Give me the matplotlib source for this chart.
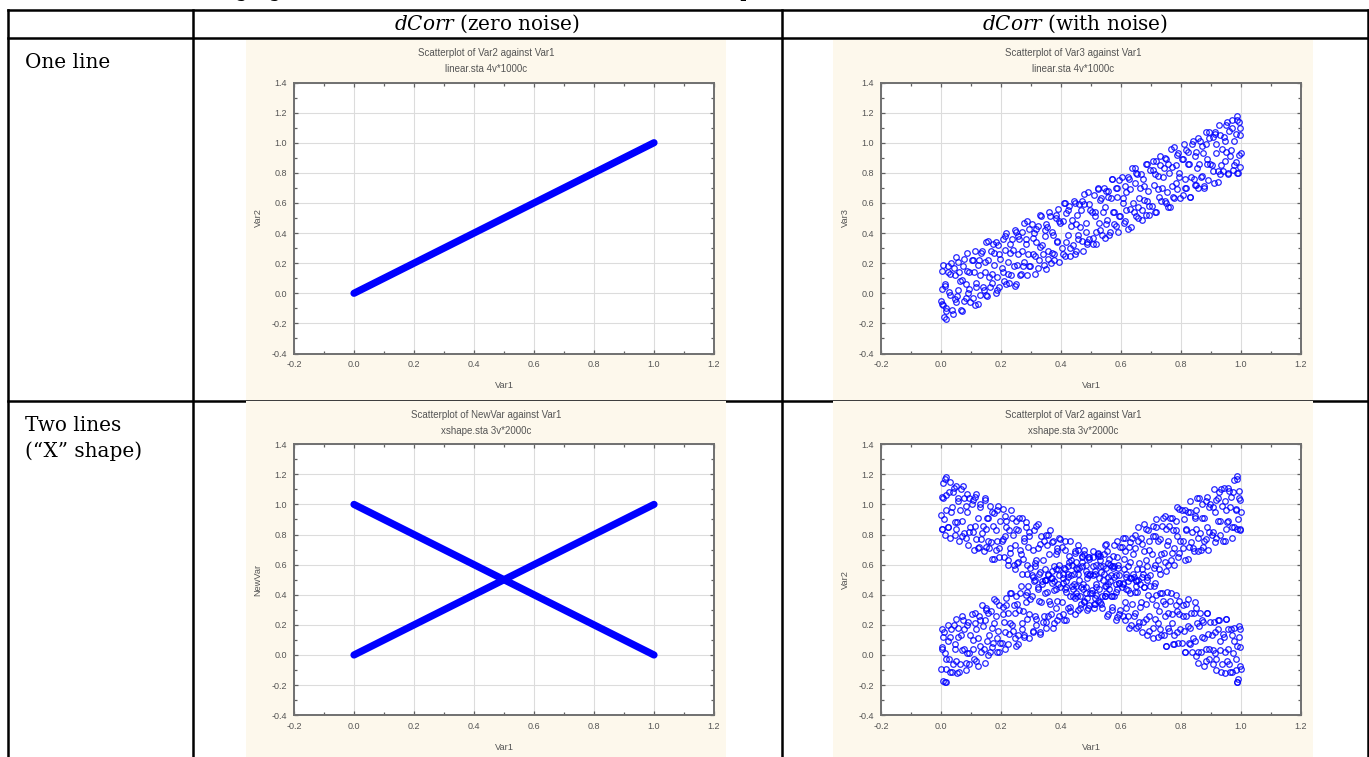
import matplotlib.pyplot as plt
from matplotlib.lines import Line2D
from matplotlib.patches import Rectangle
from matplotlib.ticker import MultipleLocator, FormatStrFormatter

W, H = 1369, 757

plt.rcParams['axes.unicode_minus'] = False
plt.rcParams['mathtext.fontset'] = 'custom'
plt.rcParams['mathtext.rm'] = 'DejaVu Serif'
plt.rcParams['mathtext.it'] = 'DejaVu Serif:italic'

# table text
intro_text = 'The following figures show the dCorr function for the two shapes:'
col_headers = [r'$\mathit{dCorr}$ (zero noise)', r'$\mathit{dCorr}$ (with noise)']
row_labels = ['One line', 'Two lines', '(\u201cX\u201d shape)']

chart_titles = ['Scatterplot of Var2 against Var1', 'Scatterplot of Var3 against Var1',
                'Scatterplot of NewVar against Var1', 'Scatterplot of Var2 against Var1']
chart_subs = ['linear.sta 4v*1000c', 'linear.sta 4v*1000c',
              'xshape.sta 3v*2000c', 'xshape.sta 3v*2000c']
chart_ylabels = ['Var2', 'Var3', 'NewVar', 'Var2']

# zero noise: points fall exactly on the lines
line_x = [0.0, 1.0]
line_up = [0.0, 1.0]
line_down = [1.0, 0.0]

noise_x = [
    0.002, 0.006, 0.009, 0.013, 0.018, 0.024, 0.027, 0.031, 0.036, 0.042, 0.047, 0.051, 0.055, 0.061, 0.066, 0.071, 0.076, 0.082, 0.087, 0.093,
    0.102, 0.106, 0.109, 0.113, 0.118, 0.124, 0.127, 0.131, 0.136, 0.142, 0.147, 0.151, 0.155, 0.161, 0.166, 0.171, 0.176, 0.182, 0.187, 0.193,
    0.202, 0.206, 0.209, 0.213, 0.218, 0.224, 0.227, 0.231, 0.236, 0.242, 0.247, 0.251, 0.255, 0.261, 0.266, 0.271, 0.276, 0.282, 0.287, 0.293,
    0.302, 0.306, 0.309, 0.313, 0.318, 0.324, 0.327, 0.331, 0.336, 0.342, 0.347, 0.351, 0.355, 0.361, 0.366, 0.371, 0.376, 0.382, 0.387, 0.393,
    0.402, 0.406, 0.409, 0.413, 0.418, 0.424, 0.427, 0.431, 0.436, 0.442, 0.447, 0.451, 0.455, 0.461, 0.466, 0.471, 0.476, 0.482, 0.487, 0.493,
    0.502, 0.506, 0.509, 0.513, 0.518, 0.524, 0.527, 0.531, 0.536, 0.542, 0.547, 0.551, 0.555, 0.561, 0.566, 0.571, 0.576, 0.582, 0.587, 0.593,
    0.602, 0.606, 0.609, 0.613, 0.618, 0.624, 0.627, 0.631, 0.636, 0.642, 0.647, 0.651, 0.655, 0.661, 0.666, 0.671, 0.676, 0.682, 0.687, 0.693,
    0.702, 0.706, 0.709, 0.713, 0.718, 0.724, 0.727, 0.731, 0.736, 0.742, 0.747, 0.751, 0.755, 0.761, 0.766, 0.771, 0.776, 0.782, 0.787, 0.793,
    0.802, 0.806, 0.809, 0.813, 0.818, 0.824, 0.827, 0.831, 0.836, 0.842, 0.847, 0.851, 0.855, 0.861, 0.866, 0.871, 0.876, 0.882, 0.887, 0.893,
    0.902, 0.906, 0.909, 0.913, 0.918, 0.924, 0.927, 0.931, 0.936, 0.942, 0.947, 0.951, 0.955, 0.961, 0.966, 0.971, 0.976, 0.982, 0.987, 0.993,
    0.985, 0.997, 0.998, 0.999,
]

noise_x2 = [
    0.998, 0.994, 0.991, 0.987, 0.982, 0.976, 0.973, 0.969, 0.964, 0.958, 0.953, 0.949, 0.945, 0.939, 0.934, 0.929, 0.924, 0.918, 0.913, 0.907,
    0.898, 0.894, 0.891, 0.887, 0.882, 0.876, 0.873, 0.869, 0.864, 0.858, 0.853, 0.849, 0.845, 0.839, 0.834, 0.829, 0.824, 0.818, 0.813, 0.807,
    0.798, 0.794, 0.791, 0.787, 0.782, 0.776, 0.773, 0.769, 0.764, 0.758, 0.753, 0.749, 0.745, 0.739, 0.734, 0.729, 0.724, 0.718, 0.713, 0.707,
    0.698, 0.694, 0.691, 0.687, 0.682, 0.676, 0.673, 0.669, 0.664, 0.658, 0.653, 0.649, 0.645, 0.639, 0.634, 0.629, 0.624, 0.618, 0.613, 0.607,
    0.598, 0.594, 0.591, 0.587, 0.582, 0.576, 0.573, 0.569, 0.564, 0.558, 0.553, 0.549, 0.545, 0.539, 0.534, 0.529, 0.524, 0.518, 0.513, 0.507,
    0.498, 0.494, 0.491, 0.487, 0.482, 0.476, 0.473, 0.469, 0.464, 0.458, 0.453, 0.449, 0.445, 0.439, 0.434, 0.429, 0.424, 0.418, 0.413, 0.407,
    0.398, 0.394, 0.391, 0.387, 0.382, 0.376, 0.373, 0.369, 0.364, 0.358, 0.353, 0.349, 0.345, 0.339, 0.334, 0.329, 0.324, 0.318, 0.313, 0.307,
    0.298, 0.294, 0.291, 0.287, 0.282, 0.276, 0.273, 0.269, 0.264, 0.258, 0.253, 0.249, 0.245, 0.239, 0.234, 0.229, 0.224, 0.218, 0.213, 0.207,
    0.198, 0.194, 0.191, 0.187, 0.182, 0.176, 0.173, 0.169, 0.164, 0.158, 0.153, 0.149, 0.145, 0.139, 0.134, 0.129, 0.124, 0.118, 0.113, 0.107,
    0.098, 0.094, 0.091, 0.087, 0.082, 0.076, 0.073, 0.069, 0.064, 0.058, 0.053, 0.049, 0.045, 0.039, 0.034, 0.029, 0.024, 0.018, 0.013, 0.007,
    0.015, 0.003, 0.002, 0.001,
]

# linear.sta, Var3 (with noise)
lin_noise_y = [
    -0.07, 0.19, -0.16, 0.06, -0.10, 0.18, 0.01, 0.13, -0.11, 0.17, -0.04, 0.24, 0.02, 0.14, -0.11, 0.09, 0.23, -0.03, 0.15, 0.03,
    0.22, -0.03, 0.14, 0.28, 0.04, -0.07, 0.22, 0.12, 0.28, 0.02, 0.21, -0.01, 0.35, 0.11, 0.28, 0.07, 0.19, 0.34, 0.02, 0.26,
    0.17, 0.36, 0.08, 0.29, 0.40, 0.13, 0.07, 0.27, 0.36, 0.18, 0.42, 0.06, 0.26, 0.36, 0.13, 0.41, 0.21, 0.33, 0.48, 0.18,
    0.46, 0.26, 0.40, 0.13, 0.34, 0.45, 0.22, 0.52, 0.32, 0.19, 0.42, 0.46, 0.28, 0.54, 0.20, 0.41, 0.26, 0.52, 0.35, 0.48,
    0.30, 0.48, 0.60, 0.25, 0.53, 0.39, 0.58, 0.30, 0.49, 0.61, 0.26, 0.46, 0.39, 0.59, 0.55, 0.35, 0.66, 0.47, 0.34, 0.59,
    0.54, 0.33, 0.65, 0.51, 0.41, 0.70, 0.47, 0.62, 0.39, 0.70, 0.57, 0.46, 0.68, 0.39, 0.63, 0.76, 0.54, 0.45, 0.70, 0.51,
    0.77, 0.60, 0.47, 0.71, 0.67, 0.43, 0.76, 0.56, 0.83, 0.54, 0.73, 0.80, 0.50, 0.63, 0.79, 0.55, 0.71, 0.86, 0.61, 0.52,
    0.58, 0.82, 0.72, 0.54, 0.88, 0.78, 0.64, 0.91, 0.70, 0.83, 0.61, 0.89, 0.57, 0.80, 0.96, 0.71, 0.63, 0.85, 0.92, 0.77,
    0.89, 0.65, 0.99, 0.76, 0.70, 0.94, 0.86, 0.64, 0.99, 0.76, 0.91, 0.72, 1.03, 0.86, 0.77, 0.98, 0.71, 1.07, 0.86, 1.03,
    0.85, 1.04, 0.73, 1.07, 0.99, 0.81, 1.12, 0.79, 0.96, 1.04, 0.88, 1.12, 0.80, 1.08, 0.95, 1.15, 0.85, 1.06, 0.80, 1.14,
    1.18, 1.05, 0.84, 0.93,
]

lin_noise_y2 = [
    1.10, 0.92, 0.80, 1.15, 0.87, 1.01, 0.82, 1.10, 0.91, 0.79, 1.14, 0.94, 1.01, 0.81, 0.85, 1.05, 0.74, 0.93, 1.06, 0.81,
    0.86, 1.07, 0.75, 0.89, 0.99, 0.70, 0.93, 0.78, 1.01, 0.70, 0.83, 0.94, 0.72, 1.01, 0.77, 0.64, 0.86, 0.95, 0.70, 0.89,
    0.63, 0.80, 0.93, 0.69, 0.73, 0.97, 0.64, 0.84, 0.57, 0.86, 0.67, 0.60, 0.90, 0.77, 0.61, 0.85, 0.69, 0.54, 0.79, 0.88,
    0.82, 0.58, 0.68, 0.86, 0.52, 0.62, 0.76, 0.49, 0.70, 0.57, 0.79, 0.51, 0.83, 0.60, 0.44, 0.69, 0.77, 0.55, 0.48, 0.63,
    0.51, 0.75, 0.41, 0.64, 0.70, 0.46, 0.54, 0.76, 0.41, 0.64, 0.49, 0.68, 0.37, 0.54, 0.63, 0.42, 0.69, 0.33, 0.54, 0.37,
    0.55, 0.36, 0.67, 0.33, 0.41, 0.59, 0.28, 0.61, 0.44, 0.36, 0.52, 0.28, 0.60, 0.32, 0.45, 0.25, 0.55, 0.34, 0.60, 0.26,
    0.47, 0.21, 0.56, 0.34, 0.50, 0.22, 0.39, 0.27, 0.51, 0.23, 0.44, 0.16, 0.38, 0.26, 0.51, 0.31, 0.17, 0.43, 0.25, 0.37,
    0.18, 0.43, 0.26, 0.12, 0.36, 0.47, 0.18, 0.28, 0.12, 0.38, 0.19, 0.41, 0.05, 0.29, 0.12, 0.33, 0.21, 0.06, 0.38, 0.14,
    0.23, 0.04, 0.32, 0.11, 0.00, 0.27, 0.33, 0.13, 0.04, 0.22, -0.02, 0.34, 0.14, 0.04, 0.27, -0.01, 0.19, 0.07, -0.08, 0.22,
    -0.06, 0.14, 0.00, 0.27, 0.06, -0.05, 0.18, -0.12, 0.08, 0.21, -0.02, -0.06, 0.12, -0.14, 0.20, -0.01, 0.14, -0.12, 0.05, -0.08,
    -0.17, 0.03, 0.15, -0.05,
]

# xshape.sta, Var2: rising arm and falling arm
xshape_up_y = [
    0.04, -0.17, 0.15, 0.01, -0.09, 0.20, -0.03, 0.12, -0.11, 0.20, 0.07, -0.04, 0.18, -0.11, 0.13, 0.26, 0.04, -0.05, 0.20, 0.01,
    0.27, 0.10, -0.03, 0.21, 0.17, -0.07, 0.26, 0.06, 0.33, 0.04, 0.23, 0.30, 0.00, 0.13, 0.29, 0.05, 0.21, 0.36, 0.11, 0.02,
    0.08, 0.32, 0.22, 0.04, 0.38, 0.28, 0.14, 0.41, 0.20, 0.33, 0.11, 0.39, 0.07, 0.30, 0.46, 0.21, 0.13, 0.35, 0.42, 0.27,
    0.39, 0.15, 0.49, 0.26, 0.20, 0.44, 0.36, 0.14, 0.49, 0.26, 0.41, 0.22, 0.53, 0.36, 0.27, 0.48, 0.21, 0.57, 0.36, 0.53,
    0.35, 0.54, 0.23, 0.57, 0.49, 0.31, 0.62, 0.29, 0.46, 0.54, 0.38, 0.62, 0.30, 0.58, 0.45, 0.65, 0.35, 0.56, 0.30, 0.64,
    0.43, 0.69, 0.34, 0.56, 0.40, 0.68, 0.51, 0.63, 0.39, 0.67, 0.46, 0.74, 0.52, 0.64, 0.39, 0.59, 0.73, 0.47, 0.65, 0.53,
    0.72, 0.47, 0.64, 0.78, 0.54, 0.43, 0.72, 0.62, 0.78, 0.52, 0.71, 0.49, 0.85, 0.61, 0.78, 0.57, 0.69, 0.84, 0.52, 0.76,
    0.67, 0.86, 0.58, 0.79, 0.90, 0.63, 0.57, 0.77, 0.86, 0.68, 0.92, 0.56, 0.76, 0.86, 0.63, 0.91, 0.71, 0.83, 0.98, 0.68,
    0.96, 0.76, 0.90, 0.63, 0.84, 0.95, 0.72, 1.02, 0.82, 0.69, 0.92, 0.96, 0.78, 1.04, 0.70, 0.91, 0.76, 1.02, 0.85, 0.98,
    0.80, 0.98, 1.10, 0.75, 1.03, 0.89, 1.08, 0.80, 0.99, 1.11, 0.76, 0.96, 0.89, 1.09, 1.05, 0.85, 1.16, 0.97, 0.84, 1.09,
    1.19, 1.03, 0.83, 0.95,
]

xshape_down_y = [
    0.84, 1.04, 0.90, 1.17, 0.96, 0.85, 1.08, 0.78, 0.98, 1.11, 0.88, 0.84, 1.02, 0.76, 1.10, 0.89, 1.04, 0.78, 0.95, 0.82,
    1.00, 0.82, 0.70, 1.05, 0.77, 0.91, 0.72, 1.00, 0.81, 0.69, 1.04, 0.84, 0.91, 0.71, 0.75, 0.95, 0.64, 0.83, 0.96, 0.71,
    0.76, 0.97, 0.65, 0.79, 0.89, 0.60, 0.83, 0.68, 0.91, 0.60, 0.73, 0.84, 0.62, 0.91, 0.67, 0.54, 0.76, 0.85, 0.60, 0.79,
    0.53, 0.70, 0.83, 0.59, 0.63, 0.87, 0.54, 0.74, 0.47, 0.76, 0.57, 0.50, 0.80, 0.67, 0.51, 0.75, 0.59, 0.44, 0.69, 0.78,
    0.72, 0.48, 0.58, 0.76, 0.42, 0.52, 0.66, 0.39, 0.60, 0.47, 0.69, 0.41, 0.73, 0.50, 0.34, 0.59, 0.67, 0.45, 0.38, 0.53,
    0.41, 0.65, 0.31, 0.54, 0.60, 0.36, 0.44, 0.66, 0.31, 0.54, 0.39, 0.58, 0.27, 0.44, 0.53, 0.32, 0.59, 0.23, 0.44, 0.27,
    0.45, 0.26, 0.57, 0.23, 0.31, 0.49, 0.18, 0.51, 0.34, 0.26, 0.42, 0.18, 0.50, 0.22, 0.35, 0.15, 0.45, 0.24, 0.50, 0.16,
    0.37, 0.11, 0.46, 0.24, 0.40, 0.12, 0.29, 0.17, 0.41, 0.13, 0.34, 0.06, 0.28, 0.16, 0.41, 0.21, 0.07, 0.33, 0.15, 0.27,
    0.08, 0.33, 0.16, 0.02, 0.26, 0.37, 0.08, 0.18, 0.02, 0.28, 0.09, 0.31, -0.05, 0.19, 0.02, 0.23, 0.11, -0.04, 0.28, 0.04,
    0.13, -0.06, 0.22, 0.01, -0.10, 0.17, 0.23, 0.03, -0.06, 0.12, -0.12, 0.24, 0.04, -0.06, 0.17, -0.11, 0.09, -0.03, -0.18, 0.12,
    -0.18, 0.05, 0.17, -0.09,
]

# second batch of the X: rising arm at noise_x2 / falling arm at noise_x2
xshape_up_y2 = xshape_down_y
xshape_down_y2 = lin_noise_y

BLUE = '#0000ff'
CREAM = '#fdf8ec'
GREY = '#555555'


def fx(x):
    return x / W


def fy(y):
    return 1 - y / H


fig = plt.figure(figsize=(W / 100, H / 100), dpi=100)


# table rules
def hline(y, x0, x1):
    fig.add_artist(Line2D([fx(x0), fx(x1)], [fy(y), fy(y)], transform=fig.transFigure,
                          color='black', lw=1.8, zorder=1, solid_capstyle='projecting'))


def vline(x, y0, y1):
    fig.add_artist(Line2D([fx(x), fx(x)], [fy(y0), fy(y1)], transform=fig.transFigure,
                          color='black', lw=1.8, zorder=1, solid_capstyle='projecting'))


hline(9.5, 8, 1368)
hline(38, 8, 1368)
hline(400.5, 8, 1368)
for xv in [8, 193, 782, 1367.5]:
    vline(xv, 9.5, 760)

# line of text above the table, mostly cut off by the top edge
fig.text(fx(110), fy(-3), intro_text, family='DejaVu Serif', fontsize=14.4,
         ha='left', va='baseline', zorder=3)

serif = dict(family='DejaVu Serif', fontsize=14.4, va='baseline', zorder=3)
fig.text(fx(487), fy(30), col_headers[0], ha='center', **serif)
fig.text(fx(1075), fy(30), col_headers[1], ha='center', **serif)
fig.text(fx(25), fy(68), row_labels[0], ha='left', **serif)
fig.text(fx(25), fy(431), row_labels[1], ha='left', **serif)
fig.text(fx(25), fy(457), row_labels[2], ha='left', **serif)


def chart(px, py, ph, idx):
    fig.add_artist(Rectangle((fx(px), fy(py + ph)), 480 / W, ph / H, transform=fig.transFigure,
                             facecolor=CREAM, edgecolor='none', zorder=1.5))
    cx = px + 240
    fig.text(fx(cx), fy(py + 14), chart_titles[idx], family='Liberation Sans', fontsize=7.0,
             color=GREY, ha='center', va='center', zorder=3)
    fig.text(fx(cx), fy(py + 30), chart_subs[idx], family='Liberation Sans', fontsize=7.0,
             color=GREY, ha='center', va='center', zorder=3)

    ax = fig.add_axes([fx(px + 48), fy(py + 314), 420 / W, 271 / H])
    ax.set_zorder(2)
    ax.set_xlim(-0.2, 1.2)
    ax.set_ylim(-0.4, 1.4)
    ax.xaxis.set_major_locator(MultipleLocator(0.2))
    ax.xaxis.set_minor_locator(MultipleLocator(0.1))
    ax.yaxis.set_major_locator(MultipleLocator(0.2))
    ax.yaxis.set_minor_locator(MultipleLocator(0.1))
    ax.xaxis.set_major_formatter(FormatStrFormatter('%.1f'))
    ax.yaxis.set_major_formatter(FormatStrFormatter('%.1f'))
    ax.grid(True, which='major', color='#dcdcdc', lw=0.8)
    ax.set_axisbelow(True)
    ax.tick_params(which='both', direction='in', top=True, right=True,
                   color='#606060', width=0.9)
    ax.tick_params(which='major', length=3, labelsize=6.5, labelcolor=GREY, pad=5)
    ax.tick_params(which='minor', length=2.5)
    for lab in ax.get_xticklabels() + ax.get_yticklabels():
        lab.set_family('Liberation Sans')
    for sp in ax.spines.values():
        sp.set_color('#707070')
        sp.set_linewidth(1.4)
    ax.set_xlabel('Var1', family='Liberation Sans', fontsize=6.7, color=GREY)
    ax.set_ylabel(chart_ylabels[idx], family='Liberation Sans', fontsize=6.7, color=GREY)
    ax.xaxis.set_label_coords(0.5, -32 / 271)
    ax.xaxis.label.set_va('center')
    ax.yaxis.set_label_coords(-36 / 420, 0.5)
    ax.yaxis.label.set_va('center')
    return ax


def scatter(ax, xs, ys):
    ax.plot(xs, ys, ls='none', marker='o', mfc='none', mec=BLUE,
            ms=4.0, mew=0.9, alpha=0.85)


ax1 = chart(246, 39.5, 360.2, 0)
ax1.plot(line_x, line_up, color=BLUE, lw=5.2, solid_capstyle='round')

ax2 = chart(833, 39.5, 360.2, 1)
scatter(ax2, noise_x, lin_noise_y)
scatter(ax2, noise_x2, lin_noise_y2)

ax3 = chart(246, 401.2, 355.8, 2)
ax3.plot(line_x, line_up, color=BLUE, lw=5.2, solid_capstyle='round')
ax3.plot(line_x, line_down, color=BLUE, lw=5.2, solid_capstyle='round')

ax4 = chart(833, 401.2, 355.8, 3)
scatter(ax4, noise_x, xshape_up_y)
scatter(ax4, noise_x, xshape_down_y)
scatter(ax4, noise_x2, xshape_up_y2)
scatter(ax4, noise_x2, xshape_down_y2)

fig.savefig('out.png', dpi=100)
